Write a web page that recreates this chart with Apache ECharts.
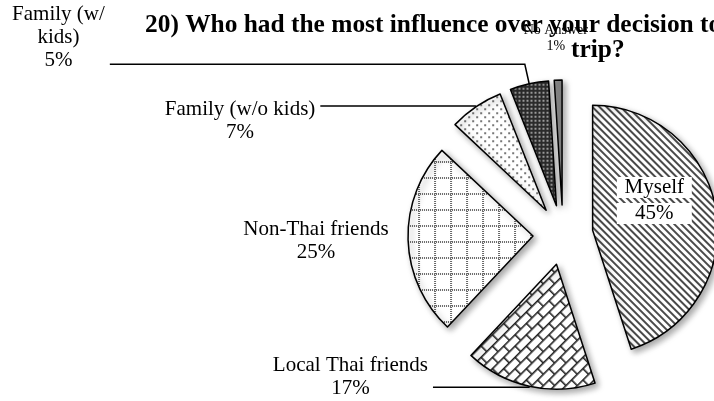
<!DOCTYPE html>
<html><head><meta charset="utf-8">
<script src="https://cdn.jsdelivr.net/npm/echarts@6/dist/echarts.min.js"></script>
<style>html,body{margin:0;padding:0;background:#fff}#c{width:714px;height:401px}</style>
</head><body><div id="c"></div>
<script>
const categories = ['Myself', 'Local Thai friends', 'Non-Thai friends', 'Family (w/o kids)', 'Family (w/ kids)', 'No Answer'];
const values = [45, 17, 25, 7, 5, 1];
const titleLines = ['20) Who had the most influence over your decision to take this', 'trip?'];

function tile(w, h, draw) {
  const c = document.createElement('canvas'); c.width = w; c.height = h;
  const g = c.getContext('2d'); draw(g, w, h); return c;
}
const patterns = [
  { image: tile(1, 5, g => { g.fillStyle = '#fff'; g.fillRect(0, 0, 1, 5); g.fillStyle = '#4a4a4a'; g.fillRect(0, 0, 1, 2); }), repeat: 'repeat', rotation: Math.PI / 4 },
  { image: tile(16, 16, g => { g.fillStyle = '#fff'; g.fillRect(0, 0, 16, 16); g.fillStyle = '#222';
      g.fillRect(0, 0, 16, 1.6); g.fillRect(0, 8, 16, 1.6); g.fillRect(0, 0, 1.6, 8); g.fillRect(8, 8, 1.6, 8); }), repeat: 'repeat', rotation: -Math.PI / 4 },
  { image: tile(16, 16, g => { g.fillStyle = '#fff'; g.fillRect(0, 0, 16, 16); g.fillStyle = '#666';
      for (let i = 0; i < 16; i += 2) { g.fillRect(0, i, 2, 1); g.fillRect(i, 0, 1, 2); } }), repeat: 'repeat' },
  { image: tile(8, 8, g => { g.fillStyle = '#fff'; g.fillRect(0, 0, 8, 8); g.fillStyle = '#777';
      g.fillRect(1, 1, 2, 2); g.fillRect(5, 5, 2, 2); }), repeat: 'repeat' },
  { image: tile(4, 4, g => { g.fillStyle = '#2b2b2b'; g.fillRect(0, 0, 4, 4); g.fillStyle = '#9a9a9a'; g.fillRect(1, 1, 2, 2); }), repeat: 'repeat' },
  '#8a8a8a'
];

// label placement: leader lengths [length, length2], padding to nudge text, line visibility, wrap width (chars)
const serif = '"Liberation Serif", "Times New Roman", serif';
const labelCfg = [
  { inside: true, padding: [0, 6, 39, 0] },
  { len: [1, 96], padding: [0, 0, 20, 0], line: true },
  { len: [5, 9.5], padding: [2, 0, 0, 0], line: false },
  { len: [1, 155], padding: [30, 0, 0, 0], line: true },
  { len: [20, 415], padding: [0, 0, 53, 0], line: true, wrap: 10 },
  { len: [42, -36], padding: [0, 0, 0, 0], line: false, small: true }
];

function wrapWords(s, maxChars) {
  const words = s.split(' '); const lines = []; let cur = '';
  words.forEach(w => {
    if (cur && (cur + ' ' + w).length > maxChars) { lines.push(cur); cur = w; }
    else cur = cur ? cur + ' ' + w : w;
  });
  if (cur) lines.push(cur);
  return lines;
}

const chart = echarts.init(document.getElementById('c'), null, { renderer: 'canvas' });
chart.setOption({
  animation: false,
  title: [
    { text: titleLines[0], left: 140, top: 8, textStyle: { fontFamily: serif, fontWeight: 'bold', fontSize: 25.4, color: '#000' } },
    { text: titleLines[1], left: 566, top: 33, textStyle: { fontFamily: serif, fontWeight: 'bold', fontSize: 25.4, color: '#000' } }
  ],
  series: [{
    type: 'pie',
    center: [563, 235],
    radius: 125,
    startAngle: 90,
    clockwise: true,
    selectedMode: 'multiple',
    selectedOffset: 30,
    avoidLabelOverlap: false,
    emphasis: { disabled: true },
    itemStyle: { borderColor: '#000', borderWidth: 1.5, shadowBlur: 6, shadowOffsetX: 3, shadowOffsetY: 3, shadowColor: 'rgba(0,0,0,0.35)' },
    label: {
      show: true, position: 'outside', distanceToLabelLine: 5,
      formatter: p => {
        const c = labelCfg[p.dataIndex];
        return wrapWords(p.name, c.wrap || 99).map(l => '{c|' + l + '}').join('\n') + '\n{c|' + p.percent + '%}';
      },
      fontFamily: serif, fontSize: 21, lineHeight: 23, color: '#000',
      rich: { c: { align: 'center', fontFamily: serif, fontSize: 21, lineHeight: 23, color: '#000' } }
    },
    labelLine: { show: true, smooth: false, minTurnAngle: 0, maxSurfaceAngle: 180, lineStyle: { color: '#000', width: 1.5 } },
    data: categories.map((n, i) => {
      const c = labelCfg[i];
      const d = { name: n, value: values[i], selected: true, itemStyle: { color: patterns[i] } };
      if (c.inside) {
        d.label = { position: 'inside', padding: c.padding,
          formatter: p => '{m|' + p.name + '}\n{m|' + p.percent + '%}',
          rich: { m: { align: 'center', width: 75, lineHeight: 26, backgroundColor: '#fff', fontFamily: serif, fontSize: 21, color: '#000' } } };
        d.labelLine = { show: false };
      } else {
        d.label = { padding: c.padding };
        if (c.small) {
          d.label.lineHeight = 16; d.label.fontSize = 14;
          d.label.rich = { c: { align: 'center', fontFamily: serif, fontSize: 14, lineHeight: 16, color: '#000' } };
        }
        d.labelLine = { show: c.line, length: c.len[0], length2: c.len[1] };
      }
      return d;
    })
  }]
});
</script></body></html>
